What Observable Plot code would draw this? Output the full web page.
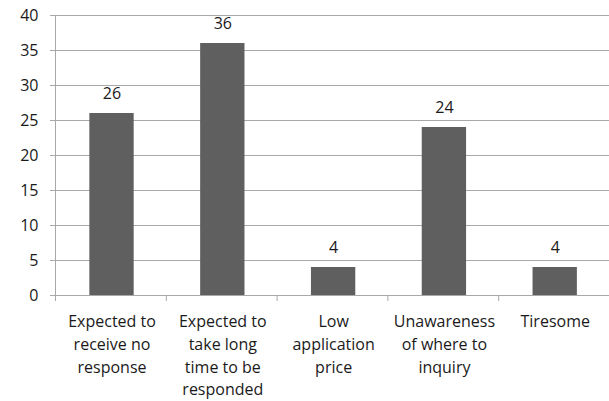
<!DOCTYPE html>
<html>
<head>
<meta charset="utf-8">
<script src="https://cdn.jsdelivr.net/npm/d3@7"></script>
<script src="https://cdn.jsdelivr.net/npm/@observablehq/plot@0.6"></script>
<style>
  html, body { margin: 0; padding: 0; background: #fff; }
  #chart svg { display: block; }
</style>
</head>
<body>
<div id="chart"></div>
<script>
const categories = [
  "Expected to\nreceive no\nresponse",
  "Expected to\ntake long\ntime to be\nresponded",
  "Low\napplication\nprice",
  "Unawareness\nof where to\ninquiry",
  "Tiresome"
];
const values = [26, 36, 4, 24, 4];
const yTicks = [0, 5, 10, 15, 20, 25, 30, 35, 40];

const data = categories.map((c, i) => ({ category: c, index: i, value: values[i] }));
const boundaries = d3.range(categories.length + 1);

const chart = Plot.plot({
  width: 609,
  height: 401,
  marginLeft: 55,
  marginRight: 0,
  marginTop: 15,
  marginBottom: 106,
  style: { fontFamily: "'Open Sans', sans-serif", color: "#1a1a1a", background: "#fff" },
  x: { domain: [0, categories.length], axis: null },
  y: { domain: [0, 40], axis: null },
  marks: [
    Plot.ruleY(yTicks, { stroke: "#a8a8a8", strokeWidth: 1 }),
    Plot.axisY({ ticks: yTicks, tickSize: 5, tickPadding: 12, stroke: "#a8a8a8", fontSize: 16, fill: "#1a1a1a", label: null }),
    Plot.ruleX([0], { y1: 0, y2: 40, stroke: "#a8a8a8" }),
    Plot.axisX({ ticks: boundaries, tickSize: 6, tickFormat: () => "", stroke: "#a8a8a8", label: null }),
    Plot.rectY(data, { x1: d => d.index + 0.31, x2: d => d.index + 0.71, y1: 0, y2: "value", fill: "#5f5f5f" }),
    Plot.text(data, { x: d => d.index + 0.51, y: "value", text: d => String(d.value), dy: -20, fontSize: 16, fill: "#1a1a1a" }),
    Plot.text(data, { x: d => d.index + 0.51, y: 0, text: "category", lineAnchor: "top", dy: 15, fontSize: 16, lineHeight: 1.43, fill: "#1a1a1a" })
  ]
});
document.getElementById("chart").appendChild(chart);
</script>
</body>
</html>
